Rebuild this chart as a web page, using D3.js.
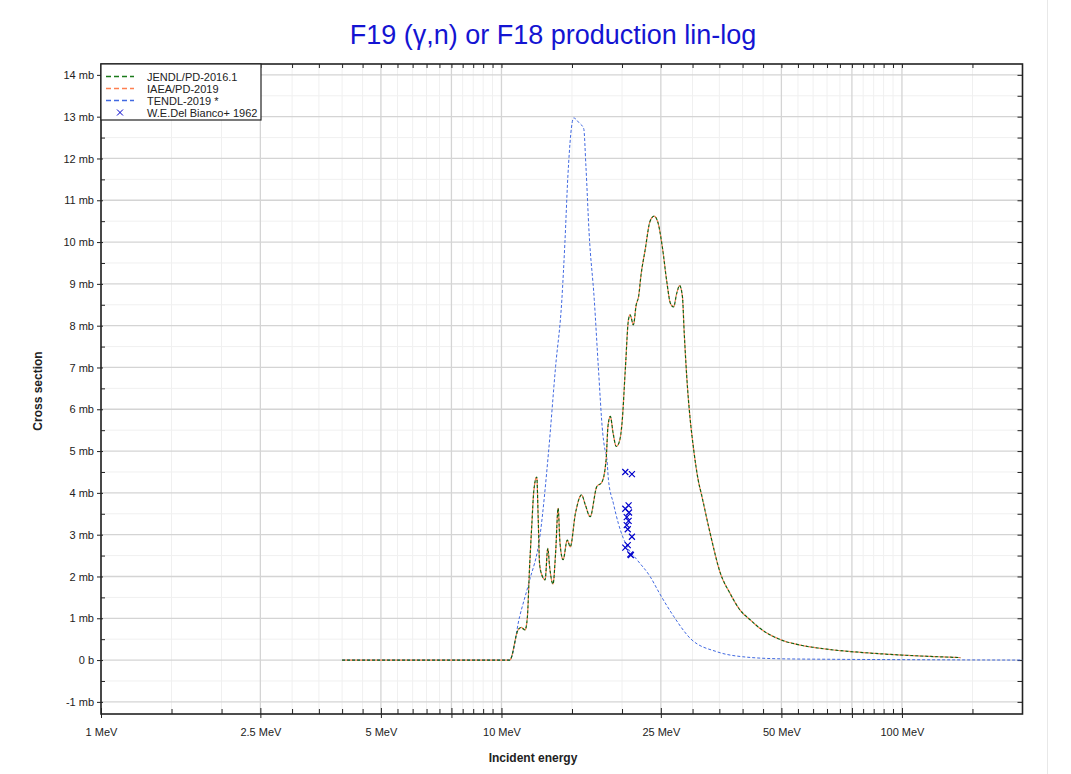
<!DOCTYPE html>
<html>
<head>
<meta charset="utf-8">
<script src="https://cdn.jsdelivr.net/npm/d3@7"></script>
<style>
  body { margin: 0; background: #fff; }
  svg { font-family: "Liberation Sans", Arial, sans-serif; }
</style>
</head>
<body>
<div id="chart"></div>
<script>
// Data (energies in MeV, cross sections in mb)
const jendlE = [4.0, 10.49, 11.0, 11.2, 11.45, 11.6, 11.75, 11.9, 12.05, 12.25, 12.35, 12.45, 12.6, 12.85, 13.05, 13.2, 13.45, 13.65, 13.85, 14.0, 14.25, 14.6, 14.85, 15.3, 15.85, 16.2, 16.65, 17.3, 17.8, 18.25, 18.45, 18.7, 19.0, 19.35, 19.7, 20.0, 20.4, 20.75, 20.95, 21.35, 21.7, 22.0, 22.3, 22.85, 23.5, 24.05, 24.6, 25.2, 25.9, 26.4, 26.9, 27.4, 27.85, 28.3, 28.6, 29.15, 29.5, 30.2, 31.0, 31.6, 33.2, 35.2, 37.2, 39.4, 41.7, 44.2, 50, 55, 65, 80, 100, 140];
const jendlS = [0, 0, 0.72, 0.78, 0.72, 1.0, 2.2, 3.2, 4.07, 4.38, 3.4, 2.3, 2.05, 1.92, 2.67, 2.2, 1.82, 2.56, 3.63, 2.8, 2.40, 2.87, 2.71, 3.51, 3.95, 3.71, 3.43, 4.15, 4.25, 4.79, 5.6, 5.83, 5.43, 5.11, 5.23, 5.67, 7.02, 8.14, 8.26, 8.02, 8.5, 8.70, 9.2, 9.82, 10.50, 10.62, 10.46, 9.90, 9.02, 8.54, 8.45, 8.78, 8.96, 8.70, 7.82, 6.5, 5.9, 5.03, 4.3, 3.95, 3.03, 2.08, 1.60, 1.20, 0.97, 0.76, 0.48, 0.37, 0.26, 0.18, 0.12, 0.06];

// IAEA/PD-2019 coincides with JENDL on this plot
const iaeaE = jendlE;
const iaeaS = jendlS;

const tendlE = [4.0, 10.49, 11.1, 11.7, 12.5, 13.1, 13.65, 14.15, 14.4, 14.65, 15.15, 15.6, 16.05, 16.25, 16.55, 17.05, 17.45, 17.9, 18.07, 18.34, 18.5, 19.03, 19.58, 20.6, 21.8, 23.5, 24.8, 26.9, 29.6, 34.5, 40, 50, 65, 100, 200];
const tendlS = [0, 0, 1.04, 1.84, 3.03, 4.95, 7.02, 8.62, 9.98, 11.58, 12.97, 12.86, 12.71, 11.82, 10.22, 8.62, 7.02, 5.43, 5.11, 4.79, 4.31, 3.75, 3.27, 2.71, 2.40, 2.0, 1.6, 1.05, 0.52, 0.20, 0.08, 0.03, 0.02, 0.01, 0];

// W.E.Del Bianco+ 1962
const expE = [20.38, 21.17, 20.77, 20.38, 20.82, 20.55, 20.77, 20.55, 20.67, 21.17, 20.67, 20.38, 20.97, 21.05];
const expS = [4.50, 4.45, 3.70, 3.62, 3.53, 3.42, 3.33, 3.23, 3.13, 2.95, 2.75, 2.69, 2.53, 2.51];

// Ticks
const xMajor = [1, 2.5, 5, 7.5, 10, 25, 50, 75, 100];
const xLabels = ["1 MeV", "2.5 MeV", "5 MeV", "", "10 MeV", "25 MeV", "50 MeV", "", "100 MeV"];
const yMajor = [-1, 0, 1, 2, 3, 4, 5, 6, 7, 8, 9, 10, 11, 12, 13, 14];
const yLabels = ["-1 mb", "0 b", "1 mb", "2 mb", "3 mb", "4 mb", "5 mb", "6 mb", "7 mb", "8 mb", "9 mb", "10 mb", "11 mb", "12 mb", "13 mb", "14 mb"];

const W = 1071, H = 774;
const L = 101, R = 1022.5, T = 64, B = 714;

const svg = d3.select("#chart").append("svg")
  .attr("width", W)
  .attr("height", H);

// faint page border on the right
svg.append("line")
  .attr("x1", 1047.5).attr("x2", 1047.5)
  .attr("y1", 0).attr("y2", H)
  .attr("stroke", "#e8e8e8");

const x = d3.scaleLog().domain([1, 200]).range([L, R]);
const y = d3.scaleLinear().domain([-1.29, 14.26]).range([B, T]);

// minor grid values
const xMinor = d3.range(1.5, 10, 0.5).concat(d3.range(15, 100, 5), [150])
  .filter(v => !xMajor.includes(v));
const yMinor = d3.range(-1, 14.1, 1).map(v => v + 0.5).filter(v => v < 14.26);

const grid = svg.append("g");
grid.selectAll(".xminor").data(xMinor).enter().append("line")
  .attr("x1", d => x(d)).attr("x2", d => x(d))
  .attr("y1", T).attr("y2", B)
  .attr("stroke", "#f0f0f0");
grid.selectAll(".yminor").data(yMinor).enter().append("line")
  .attr("x1", L).attr("x2", R)
  .attr("y1", d => y(d)).attr("y2", d => y(d))
  .attr("stroke", "#f0f0f0");
grid.selectAll(".xmajor").data(xMajor).enter().append("line")
  .attr("x1", d => x(d)).attr("x2", d => x(d))
  .attr("y1", T).attr("y2", B)
  .attr("stroke", "#d4d4d4").attr("stroke-width", 1.3);
grid.selectAll(".ymajor").data(yMajor).enter().append("line")
  .attr("x1", L).attr("x2", R)
  .attr("y1", d => y(d)).attr("y2", d => y(d))
  .attr("stroke", "#d4d4d4").attr("stroke-width", 1.3);

// Axes
const xAxis = svg.append("g")
  .attr("transform", `translate(0,${B})`)
  .call(d3.axisBottom(x).tickValues(xMajor)
    .tickFormat((d, i) => xLabels[i]).tickSize(4).tickPadding(10));
const xAxisMinor = svg.append("g")
  .attr("transform", `translate(0,${B})`)
  .call(d3.axisBottom(x).tickValues(xMinor).tickFormat("").tickSize(-5));
const xTop = svg.append("g")
  .attr("transform", `translate(0,${T})`)
  .call(d3.axisTop(x).tickValues(xMajor.concat(xMinor)).tickFormat("").tickSize(-4));
const yAxis = svg.append("g")
  .attr("transform", `translate(${L},0)`)
  .call(d3.axisLeft(y).tickValues(yMajor)
    .tickFormat((d, i) => yLabels[i]).tickSize(4).tickPadding(3));
const yAxisMinor = svg.append("g")
  .attr("transform", `translate(${L},0)`)
  .call(d3.axisLeft(y).tickValues(yMinor).tickFormat("").tickSize(-4));
const yRight = svg.append("g")
  .attr("transform", `translate(${R},0)`)
  .call(d3.axisRight(y).tickValues(yMajor.concat(yMinor)).tickFormat("").tickSize(-5));

[xAxis, xAxisMinor, xTop, yAxis, yAxisMinor, yRight].forEach(a => {
  a.select(".domain").remove();
  a.selectAll(".tick line").attr("stroke", "#222");
  a.selectAll("text").attr("font-size", 11).attr("fill", "#222")
    .attr("font-family", "'Liberation Sans', Arial, sans-serif");
});
// major x ticks also go inward
xAxis.selectAll(".tick line").attr("y1", -6);
yAxis.selectAll(".tick line").attr("x1", 2);

// Frame
svg.append("rect")
  .attr("x", L).attr("y", T)
  .attr("width", R - L).attr("height", B - T)
  .attr("fill", "none")
  .attr("stroke", "#222")
  .attr("stroke-width", 1.6);

// Curves
const line = d3.line()
  .curve(d3.curveMonotoneX)
  .x(d => x(d[0]))
  .y(d => y(d[1]));

const plot = svg.append("g");

plot.append("path")
  .datum(tendlE.map((e, i) => [e, tendlS[i]]))
  .attr("fill", "none")
  .attr("stroke", "#4169e1")
  .attr("stroke-width", 1)
  .attr("stroke-dasharray", "3,2")
  .attr("d", line);

plot.append("path")
  .datum(iaeaE.map((e, i) => [e, iaeaS[i]]))
  .attr("fill", "none")
  .attr("stroke", "#ff7f50")
  .attr("stroke-width", 1.2)
  .attr("stroke-dasharray", "3,2")
  .attr("stroke-dashoffset", 2)
  .attr("d", line);

plot.append("path")
  .datum(jendlE.map((e, i) => [e, jendlS[i]]))
  .attr("fill", "none")
  .attr("stroke", "#106010")
  .attr("stroke-width", 1.2)
  .attr("stroke-dasharray", "3,2")
  .attr("d", line);

// Experimental points
const cross = "M-3,-3L3,3M-3,3L3,-3";
plot.selectAll(".pt")
  .data(expE.map((e, i) => [e, expS[i]]))
  .enter().append("path")
  .attr("transform", d => `translate(${x(d[0])},${y(d[1])})`)
  .attr("d", cross)
  .attr("stroke", "#0000cc")
  .attr("stroke-width", 1.2)
  .attr("fill", "none");

// Legend
const legend = svg.append("g");
legend.append("rect")
  .attr("x", L).attr("y", T)
  .attr("width", 160).attr("height", 56)
  .attr("fill", "#fff")
  .attr("stroke", "#222")
  .attr("stroke-width", 1.2);

const legendItems = [
  { name: "JENDL/PD-2016.1", color: "#1a7a1a", type: "line" },
  { name: "IAEA/PD-2019", color: "#ff7f50", type: "line" },
  { name: "TENDL-2019 *", color: "#4169e1", type: "line" },
  { name: "W.E.Del Bianco+ 1962", color: "#0000cc", type: "point" }
];
legendItems.forEach((d, i) => {
  const yy = 76.5 + i * 12;
  if (d.type === "line") {
    legend.append("line")
      .attr("x1", 106).attr("x2", 134)
      .attr("y1", yy).attr("y2", yy)
      .attr("stroke", d.color)
      .attr("stroke-width", 1.6)
      .attr("stroke-dasharray", "5,3");
  } else {
    legend.append("path")
      .attr("transform", `translate(120,${yy})`)
      .attr("d", cross)
      .attr("stroke", d.color)
      .attr("stroke-width", 1);
  }
  legend.append("text")
    .attr("x", 147)
    .attr("y", yy + 4)
    .attr("font-size", 11)
    .attr("fill", "#222")
    .text(d.name);
});

// Titles
svg.append("text")
  .attr("x", 553).attr("y", 44)
  .attr("text-anchor", "middle")
  .attr("font-size", 27)
  .attr("fill", "#1414d2")
  .text("F19 (γ,n) or F18 production lin-log");

svg.append("text")
  .attr("x", 533).attr("y", 762)
  .attr("text-anchor", "middle")
  .attr("font-size", 12)
  .attr("font-weight", "bold")
  .attr("fill", "#222")
  .text("Incident energy");

svg.append("text")
  .attr("transform", "translate(42,391) rotate(-90)")
  .attr("text-anchor", "middle")
  .attr("font-size", 12)
  .attr("font-weight", "bold")
  .attr("fill", "#222")
  .text("Cross section");
</script>
</body>
</html>
